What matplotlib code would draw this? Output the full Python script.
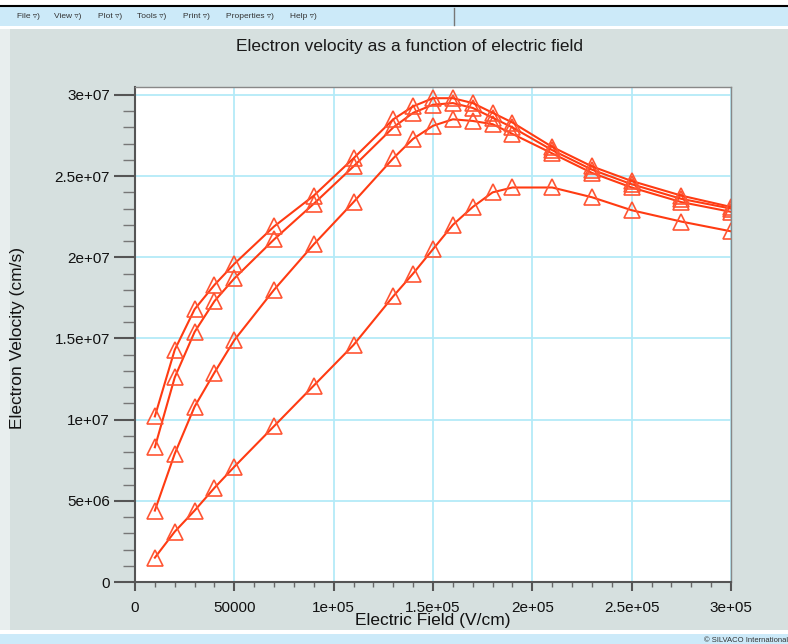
import numpy as np
import matplotlib.pyplot as plt
from matplotlib.patches import Rectangle
from matplotlib.ticker import MultipleLocator

plt.rcParams['font.family'] = ['Liberation Sans', 'DejaVu Sans']

# campo electrico (V/cm)
campo = [10000, 20000, 30000, 40000, 50000, 70000, 90000, 110000, 130000, 140000,
         150000, 160000, 170000, 180000, 190000, 210000, 230000, 250000, 275000, 300000]

# velocidad de electrones (cm/s), una curva por caso
vel_a = [10.2e6, 14.3e6, 16.8e6, 18.3e6, 19.6e6, 21.9e6, 23.8e6, 26.1e6, 28.5e6, 29.3e6,
         29.8e6, 29.8e6, 29.5e6, 28.9e6, 28.3e6, 26.8e6, 25.6e6, 24.7e6, 23.8e6, 23.1e6]
vel_b = [8.3e6, 12.6e6, 15.4e6, 17.3e6, 18.7e6, 21.1e6, 23.3e6, 25.6e6, 28.0e6, 28.9e6,
         29.4e6, 29.5e6, 29.2e6, 28.6e6, 28.0e6, 26.6e6, 25.4e6, 24.5e6, 23.6e6, 23.0e6]
vel_c = [4.4e6, 7.9e6, 10.8e6, 12.9e6, 14.9e6, 18.0e6, 20.8e6, 23.4e6, 26.1e6, 27.3e6,
         28.1e6, 28.5e6, 28.4e6, 28.2e6, 27.6e6, 26.4e6, 25.2e6, 24.3e6, 23.4e6, 22.8e6]
vel_d = [1.5e6, 3.1e6, 4.4e6, 5.8e6, 7.1e6, 9.6e6, 12.1e6, 14.6e6, 17.6e6, 19.0e6,
         20.5e6, 22.0e6, 23.1e6, 24.0e6, 24.3e6, 24.3e6, 23.7e6, 22.9e6, 22.2e6, 21.6e6]

x_ticks = [0, 50000, 100000, 150000, 200000, 250000, 300000]
x_labels = ['0', '50000', '1e+05', '1.5e+05', '2e+05', '2.5e+05', '3e+05']
y_ticks = [0, 5e6, 1e7, 1.5e7, 2e7, 2.5e7, 3e7]
y_labels = ['0', '5e+06', '1e+07', '1.5e+07', '2e+07', '2.5e+07', '3e+07']

menu = ['File', 'View', 'Plot', 'Tools', 'Print', 'Properties', 'Help']
menu_x = [17, 54, 98, 137, 183, 226, 290]

W, H = 788, 644
fig = plt.figure(figsize=(W / 100, H / 100), dpi=100)
fig.patch.set_facecolor('#d6e0df')

# marco de la ventana
fig.add_artist(Rectangle((0, 1 - 29 / H), 1, 29 / H, transform=fig.transFigure,
                         facecolor='white', edgecolor='none'))
fig.add_artist(Rectangle((0, 1 - 26 / H), 1, 19 / H, transform=fig.transFigure,
                         facecolor='#cceaf9', edgecolor='none'))
fig.add_artist(plt.Line2D([0, 1], [1 - 6 / H, 1 - 6 / H], color='black', lw=1.5))
fig.add_artist(plt.Line2D([454 / W, 454 / W], [1 - 25 / H, 1 - 8 / H], color='#777777', lw=1))
fig.add_artist(Rectangle((0, 0), 10 / W, 1 - 29 / H, transform=fig.transFigure,
                         facecolor='#e8eeee', edgecolor='none'))
fig.add_artist(Rectangle((0, 0), 1, 14 / H, transform=fig.transFigure,
                         facecolor='white', edgecolor='none'))
fig.add_artist(Rectangle((0, 0), 1, 10 / H, transform=fig.transFigure,
                         facecolor='#cceaf9', edgecolor='none'))
fig.text(704 / W, 4 / H, '\u00a9 SILVACO International', fontsize=5.5, color='#333333',
         va='center', ha='left')

for m, xm in zip(menu, menu_x):
    fig.text(xm / W, 1 - 16 / H, m + ' \u25bf)', fontsize=6, color='#333333',
             va='center', ha='left')

fig.text(409 / W, 1 - 47 / H, 'Electron velocity as a function of electric field',
         fontsize=12.5, color='#1a1a1a', ha='center', va='center')

ax = fig.add_axes([135 / W, (H - 582) / H, (731 - 135) / W, (582 - 87) / H])
ax.set_facecolor('white')

color_linea = '#ff3b12'
for v in [vel_d, vel_c, vel_b, vel_a]:
    ax.plot(campo, v, color=color_linea, lw=1.5, marker='^', markersize=11,
            markerfacecolor='none', markeredgecolor='#ff5533', markeredgewidth=1.2)

ax.set_xlim(0, 300000)
ax.set_ylim(0, 3.049e7)
ax.set_xticks(x_ticks)
ax.set_xticklabels(x_labels)
ax.set_yticks(y_ticks)
ax.set_yticklabels(y_labels)
ax.xaxis.set_minor_locator(MultipleLocator(10000))
ax.yaxis.set_minor_locator(MultipleLocator(1e6))
ax.grid(True, which='major', color='#b4eaf8', lw=1.3)
ax.set_axisbelow(True)

ax.tick_params(axis='x', which='major', length=6.5, width=1.5, color='#555555',
               labelsize=11, pad=7, labelcolor='#111111')
ax.tick_params(axis='x', which='minor', length=3.5, width=1, color='#666666')
ax.tick_params(axis='y', which='major', length=15, width=1.5, color='#555555',
               labelsize=11, pad=3, labelcolor='#111111')
ax.tick_params(axis='y', which='minor', length=8.5, width=1, color='#777777')
for s in ['left', 'bottom']:
    ax.spines[s].set_color('#555555')
    ax.spines[s].set_linewidth(1.5)
for s in ['top', 'right']:
    ax.spines[s].set_color('#888888')
    ax.spines[s].set_linewidth(1)

fig.text(433 / W, 1 - 621 / H, 'Electric Field (V/cm)', fontsize=12.5, color='#111111',
         ha='center', va='center')
fig.text(18 / W, 1 - 338 / H, 'Electron Velocity (cm/s)', fontsize=12.5, color='#111111',
         ha='center', va='center', rotation=90)

plt.savefig('out.png', dpi=100, facecolor=fig.get_facecolor())
